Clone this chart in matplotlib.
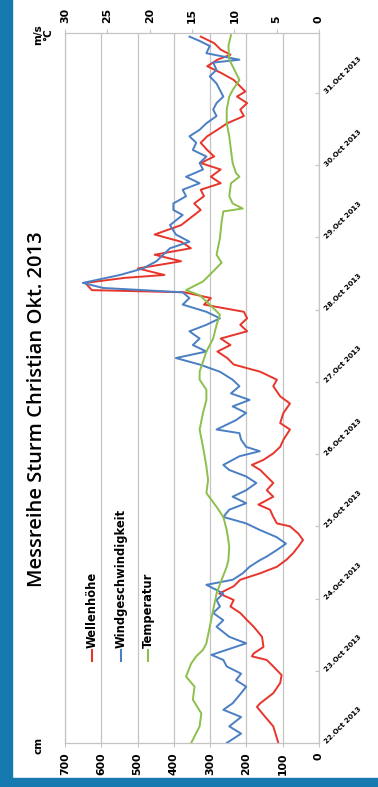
import matplotlib.pyplot as plt
from matplotlib.lines import Line2D
from matplotlib.patches import Rectangle

# Wellenhoehe (cm), time as day of October 2013
t_wave = [22.00, 22.23, 22.36, 22.50, 22.55, 22.69, 22.83, 22.94, 23.06, 23.15, 23.20, 23.24,
          23.33, 23.47, 23.61, 23.70, 23.80, 23.89, 23.98, 24.07, 24.17, 24.26, 24.35, 24.44,
          24.54, 24.63, 24.72, 24.81, 24.90, 25.00, 25.04, 25.13, 25.23, 25.30, 25.41, 25.50,
          25.60, 25.69, 25.78, 25.85, 25.92, 26.01, 26.10, 26.20, 26.34, 26.43, 26.57, 26.70,
          26.80, 26.94, 27.03, 27.14, 27.24, 27.33, 27.42, 27.51, 27.60, 27.70, 27.79, 27.88,
          27.97, 28.07, 28.16, 28.24, 28.27, 28.37, 28.44, 28.48, 28.57, 28.67, 28.76, 28.85,
          28.94, 29.04, 29.17, 29.31, 29.38, 29.47, 29.57, 29.66, 29.75, 29.84, 29.94, 30.03,
          30.12, 30.21, 30.31, 30.40, 30.49, 30.58, 30.68, 30.77, 30.86, 30.95, 31.02, 31.09,
          31.18, 31.28, 31.37, 31.46, 31.53, 31.60, 31.69, 31.78]
wave = [112, 126, 148, 171, 162, 126, 107, 103, 126, 144, 185, 180,
        153, 157, 180, 198, 217, 244, 235, 275, 235, 217, 162, 116,
        89, 71, 57, 44, 57, 80, 116, 126, 135, 167, 126, 144,
        126, 144, 162, 185, 153, 126, 107, 98, 80, 107, 98, 80,
        107, 126, 116, 162, 235, 253, 280, 244, 271, 198, 217, 198,
        207, 317, 298, 371, 626, 644, 535, 426, 499, 380, 453, 353,
        380, 453, 380, 344, 326, 344, 317, 326, 271, 298, 271, 326,
        289, 308, 326, 308, 280, 253, 207, 217, 198, 226, 203, 217,
        235, 271, 308, 280, 244, 271, 289, 326]

# Windgeschwindigkeit (m/s)
t_wind = [22.00, 22.13, 22.23, 22.36, 22.46, 22.55, 22.69, 22.78, 22.87, 22.96, 23.06, 23.15,
          23.22, 23.29, 23.38, 23.47, 23.61, 23.70, 23.80, 23.89, 23.98, 24.07, 24.19, 24.26,
          24.35, 24.44, 24.53, 24.58, 24.67, 24.76, 24.85, 24.95, 25.04, 25.13, 25.23, 25.32,
          25.41, 25.50, 25.60, 25.69, 25.78, 25.85, 25.97, 26.04, 26.10, 26.20, 26.29, 26.34,
          26.47, 26.57, 26.66, 26.75, 26.84, 26.94, 27.03, 27.14, 27.24, 27.33, 27.42, 27.51,
          27.60, 27.70, 27.79, 27.88, 27.97, 28.07, 28.16, 28.24, 28.30, 28.37, 28.41, 28.48,
          28.57, 28.67, 28.76, 28.85, 28.94, 29.04, 29.17, 29.31, 29.38, 29.47, 29.57, 29.66,
          29.75, 29.84, 29.94, 30.03, 30.12, 30.21, 30.31, 30.40, 30.49, 30.58, 30.68, 30.77,
          30.86, 30.95, 31.04, 31.13, 31.23, 31.32, 31.42, 31.46, 31.55, 31.65, 31.72, 31.78]
wind = [10.9, 9.2, 10.6, 9.2, 11.3, 10.2, 9.2, 8.6, 9.8, 9.2, 10.9, 11.3,
        12.7, 10.9, 8.6, 10.6, 12.1, 11.3, 12.5, 11.7, 12.1, 11.3, 13.3, 10.2,
        9.0, 8.2, 7.0, 6.2, 5.0, 3.9, 5.0, 7.0, 8.6, 11.3, 10.6, 8.6,
        10.2, 8.6, 7.4, 8.6, 10.6, 11.3, 9.4, 7.0, 8.6, 9.2, 9.4, 12.1,
        9.8, 8.6, 10.2, 8.2, 10.4, 9.4, 10.2, 11.7, 14.1, 16.9, 13.3, 14.9,
        14.1, 15.3, 13.3, 11.7, 13.3, 16.1, 15.3, 16.1, 25.5, 27.9, 26.3, 23.5,
        20.8, 19.2, 18.4, 17.6, 15.3, 16.9, 17.6, 16.1, 17.2, 17.2, 15.7, 16.1,
        14.1, 15.7, 13.7, 14.1, 13.3, 14.9, 14.5, 15.3, 14.1, 13.3, 12.1, 12.5,
        12.1, 11.3, 11.7, 12.1, 12.9, 12.1, 12.5, 9.4, 13.3, 12.9, 14.1, 15.3]

# Temperatur (deg C)
t_temp = [22.00, 22.23, 22.41, 22.60, 22.78, 22.92, 23.10, 23.20, 23.29, 23.38, 23.61, 23.84,
          24.07, 24.26, 24.44, 24.53, 24.72, 24.95, 25.13, 25.27, 25.46, 25.64, 25.83, 26.10,
          26.34, 26.57, 26.75, 26.89, 27.03, 27.14, 27.28, 27.42, 27.60, 27.79, 27.93, 28.07,
          28.20, 28.27, 28.39, 28.53, 28.65, 28.76, 28.99, 29.22, 29.36, 29.40, 29.47, 29.57,
          29.75, 29.84, 29.89, 30.03, 30.21, 30.40, 30.58, 30.77, 30.95, 31.04, 31.18, 31.37,
          31.46, 31.65, 31.80]
temp = [15.1, 14.1, 13.9, 14.9, 14.7, 15.7, 15.1, 14.5, 13.7, 13.3, 12.9, 12.5,
        12.1, 11.5, 10.9, 10.7, 10.6, 10.9, 11.3, 12.1, 13.3, 13.1, 13.3, 13.7,
        14.1, 13.7, 13.3, 13.3, 14.1, 14.1, 13.7, 13.3, 12.5, 12.1, 11.7, 12.9,
        14.1, 15.7, 13.7, 12.5, 11.5, 12.1, 11.7, 11.5, 11.3, 9.0, 10.2, 10.6,
        10.4, 9.4, 9.8, 10.2, 10.4, 10.6, 10.9, 10.9, 10.6, 10.2, 9.4, 10.2,
        10.6, 10.7, 10.4]

days = list(range(22, 32))
day_labels = [f"{d}.Oct 2013" for d in days]
cm_ticks = list(range(0, 701, 100))
ms_ticks = list(range(0, 31, 5))

red, blue, green = '#e8352b', '#4a7fc4', '#8dbf4c'
grey = '#c4c4c4'

fig = plt.figure(figsize=(3.78, 7.87), dpi=100)
fig.patches.append(Rectangle((0, 0), 12 / 378, 1, transform=fig.transFigure,
                             color='#1679b0', zorder=-1))
fig.patches.append(Rectangle((0, 0), 1, 9 / 787, transform=fig.transFigure,
                             color='#1679b0', zorder=-1))

# chart is turned on its side: time runs upward, values run right-to-left
ax = fig.add_axes([65 / 378, 44 / 787, 254 / 378, 710 / 787])
ax.plot(wave, t_wave, color=red, lw=1.4)
ax.set_xlim(700, 0)
ax.set_ylim(22, 31.83)
ax.set_xticks(cm_ticks)
ax.set_xticklabels([str(v) for v in cm_ticks], rotation=90, fontsize=7.8,
                   fontweight='bold')
ax.tick_params(axis='x', length=3, color=grey, pad=4)
ax.grid(axis='x', color=grey, lw=0.9)
ax.yaxis.tick_right()
ax.set_yticks(days)
ax.set_yticklabels(day_labels, rotation=45, fontsize=5.2, fontweight='bold',
                   ha='left', va='center', rotation_mode='anchor')
ax.tick_params(axis='y', direction='in', length=3, color=grey, pad=5)
for s in ax.spines.values():
    s.set_color(grey)

ax2 = ax.twiny()
ax2.plot(wind, t_wind, color=blue, lw=1.4)
ax2.plot(temp, t_temp, color=green, lw=1.4)
ax2.set_xlim(30, 0)
ax2.set_xticks(ms_ticks)
ax2.set_xticklabels([str(v) for v in ms_ticks], rotation=90, fontsize=7.8,
                    fontweight='bold')
ax2.tick_params(axis='x', length=3, color=grey, pad=4)
for s in ax2.spines.values():
    s.set_color(grey)

fig.text(37 / 378, 1 - 409 / 787, 'Messreihe Sturm Christian Okt. 2013', rotation=90,
         ha='center', va='center', fontsize=14.5, fontweight='semibold', family='Open Sans')
fig.text(38 / 378, 1 - 745 / 787, 'cm', rotation=90, ha='center', va='center',
         fontsize=7.5, fontweight='bold')
fig.text(43 / 378, 1 - 35 / 787, 'm/s\n°C', rotation=90, ha='center', va='center',
         fontsize=7.5, fontweight='bold', multialignment='center', linespacing=1.0)

# legend drawn by hand, rotated like the rest
legend = [('Wellenhöhe', red, 92), ('Windgeschwindigkeit', blue, 121), ('Temperatur', green, 148)]
for name, col, xp in legend:
    fx = xp / 378
    fig.add_artist(Line2D([fx, fx], [1 - 661 / 787, 1 - 650 / 787], color=col, lw=1.5,
                          transform=fig.transFigure))
    fig.text(fx, 1 - 648 / 787, name, rotation=90, ha='center', va='bottom',
             fontsize=8.3, fontweight='bold')

fig.savefig('out.png', dpi=100)
